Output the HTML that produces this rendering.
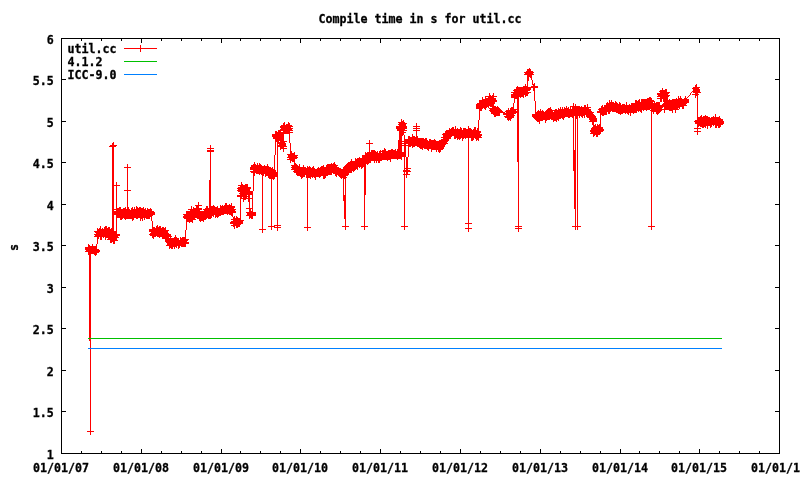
<!DOCTYPE html>
<html lang="en"><head><meta charset="utf-8"><title>Compile time in s for util.cc</title>
<style>html,body{margin:0;padding:0;background:#fff}body{width:800px;height:480px;overflow:hidden}svg{display:block}</style>
</head><body>
<svg width="800" height="480" viewBox="0 0 800 480">
<rect width="800" height="480" fill="#fff"/>
<path d="M61.5 38.5H779.5V453.5H61.5ZM62 453.5h4M779 453.5h-4M62 411.5h4M779 411.5h-4M62 370.5h4M779 370.5h-4M62 328.5h4M779 328.5h-4M62 287.5h4M779 287.5h-4M62 245.5h4M779 245.5h-4M62 204.5h4M779 204.5h-4M62 162.5h4M779 162.5h-4M62 121.5h4M779 121.5h-4M62 79.5h4M779 79.5h-4M62 38.5h4M779 38.5h-4M61.5 453v-4 M61.5 39v4M81.5 453v-2 M81.5 39v2M101.5 453v-2 M101.5 39v2M121.5 453v-2 M121.5 39v2M141.5 453v-4 M141.5 39v4M161.5 453v-2 M161.5 39v2M181.5 453v-2 M181.5 39v2M201.5 453v-2 M201.5 39v2M221.5 453v-4 M221.5 39v4M240.5 453v-2 M240.5 39v2M260.5 453v-2 M260.5 39v2M280.5 453v-2 M280.5 39v2M300.5 453v-4 M300.5 39v4M320.5 453v-2 M320.5 39v2M340.5 453v-2 M340.5 39v2M360.5 453v-2 M360.5 39v2M380.5 453v-4 M380.5 39v4M400.5 453v-2 M400.5 39v2M420.5 453v-2 M420.5 39v2M440.5 453v-2 M440.5 39v2M460.5 453v-4 M460.5 39v4M480.5 453v-2 M480.5 39v2M500.5 453v-2 M500.5 39v2M520.5 453v-2 M520.5 39v2M540.5 453v-4 M540.5 39v4M560.5 453v-2 M560.5 39v2M580.5 453v-2 M580.5 39v2M600.5 453v-2 M600.5 39v2M620.5 453v-4 M620.5 39v4M639.5 453v-2 M639.5 39v2M659.5 453v-2 M659.5 39v2M679.5 453v-2 M679.5 39v2M699.5 453v-4 M699.5 39v4M719.5 453v-2 M719.5 39v2M739.5 453v-2 M739.5 39v2M759.5 453v-2 M759.5 39v2M779.5 453v-4 M779.5 39v4" fill="none" stroke="#000" stroke-width="1" shape-rendering="crispEdges"/>
<path d="M85 247h1v3h-1zM85 251h1v1h-1zM86 247h2v5h-2zM87 431h3v1h-3zM88 244h1v11h-1zM89 245h1v96h-1zM90 246h1v189h-1zM91 246h1v8h-1zM91 431h3v1h-3zM92 244h1v10h-1zM93 246h1v8h-1zM94 231h1v1h-1zM94 234h1v1h-1zM94 236h1v1h-1zM94 246h1v9h-1zM95 231h1v2h-1zM95 234h1v3h-1zM95 246h1v10h-1zM96 231h1v6h-1zM96 244h1v11h-1zM97 228h1v16h-1zM97 249h2v4h-2zM98 229h1v10h-1zM99 228h1v9h-1zM99 250h1v2h-1zM100 226h1v14h-1zM101 229h1v11h-1zM102 228h1v9h-1zM103 229h1v9h-1zM104 227h1v10h-1zM105 226h1v14h-1zM106 226h1v12h-1zM107 228h1v10h-1zM107 239h1v1h-1zM108 227h2v13h-2zM109 146h1v1h-1zM110 145h2v2h-2zM110 229h1v14h-1zM111 228h1v15h-1zM112 143h1v99h-1zM113 142h1v102h-1zM114 145h2v2h-2zM114 185h2v1h-2zM114 209h2v1h-2zM114 211h2v4h-2zM114 231h1v13h-1zM115 231h1v10h-1zM116 145h1v1h-1zM116 182h1v59h-1zM117 185h3v1h-3zM117 208h2v10h-2zM117 234h1v4h-1zM117 240h1v1h-1zM118 234h2v2h-2zM118 237h1v1h-1zM119 207h1v11h-1zM120 207h1v13h-1zM121 209h1v11h-1zM122 209h1v10h-1zM123 208h1v10h-1zM124 167h3v1h-3zM124 190h3v1h-3zM124 208h1v11h-1zM125 207h1v13h-1zM126 209h1v10h-1zM127 164h1v55h-1zM128 167h3v1h-3zM128 190h3v1h-3zM128 207h1v12h-1zM129 209h1v10h-1zM130 210h1v9h-1zM131 208h1v11h-1zM132 207h1v14h-1zM133 209h1v11h-1zM134 207h1v11h-1zM135 209h1v9h-1zM136 206h1v13h-1zM137 207h1v12h-1zM138 208h1v10h-1zM139 207h1v11h-1zM140 207h1v14h-1zM141 208h1v11h-1zM142 208h1v13h-1zM143 207h1v11h-1zM144 209h1v11h-1zM145 208h1v10h-1zM146 210h1v9h-1zM147 208h1v11h-1zM148 209h2v10h-2zM149 229h2v3h-2zM149 234h1v1h-1zM150 208h1v9h-1zM150 233h1v3h-1zM151 209h1v12h-1zM151 229h1v7h-1zM152 211h1v5h-1zM152 221h1v17h-1zM153 211h1v4h-1zM153 227h1v12h-1zM154 212h1v3h-1zM154 227h1v10h-1zM155 228h1v9h-1zM156 226h1v10h-1zM157 225h1v12h-1zM158 227h1v10h-1zM159 226h1v12h-1zM160 226h1v11h-1zM161 228h1v9h-1zM162 227h2v12h-2zM164 228h1v11h-1zM165 227h1v15h-1zM166 230h1v13h-1zM166 245h1v1h-1zM167 230h1v16h-1zM168 230h1v1h-1zM168 233h1v13h-1zM169 234h1v3h-1zM169 238h1v11h-1zM170 234h1v14h-1zM171 236h1v1h-1zM171 238h2v11h-2zM173 238h1v9h-1zM174 237h1v12h-1zM175 235h1v12h-1zM176 237h1v11h-1zM177 238h1v8h-1zM178 238h1v11h-1zM179 240h1v8h-1zM180 237h1v9h-1zM181 238h1v9h-1zM182 237h3v10h-3zM183 214h1v1h-1zM183 216h1v2h-1zM184 214h2v5h-2zM185 230h1v17h-1zM186 211h1v19h-1zM186 239h1v5h-1zM187 211h2v11h-2zM187 239h1v2h-1zM187 242h2v2h-2zM188 209h2v1h-2zM188 239h1v1h-1zM189 211h1v12h-1zM190 209h1v13h-1zM191 206h1v16h-1zM192 209h1v14h-1zM193 207h1v13h-1zM194 208h1v12h-1zM195 205h1v1h-1zM195 208h1v10h-1zM195 219h1v1h-1zM196 205h1v13h-1zM197 205h1v14h-1zM198 202h1v17h-1zM199 205h3v1h-3zM199 208h1v13h-1zM200 208h2v2h-2zM200 211h1v11h-1zM201 211h2v10h-2zM203 209h1v1h-1zM203 211h1v11h-1zM204 209h1v11h-1zM205 208h1v12h-1zM206 206h1v13h-1zM207 148h3v1h-3zM207 150h3v2h-3zM207 206h1v12h-1zM208 208h1v11h-1zM209 180h1v39h-1zM210 145h1v74h-1zM211 148h3v1h-3zM211 150h3v2h-3zM211 206h1v12h-1zM212 206h1v10h-1zM213 205h1v12h-1zM214 206h1v9h-1zM215 207h1v11h-1zM216 207h1v10h-1zM217 206h1v12h-1zM218 208h1v9h-1zM219 208h1v8h-1zM220 205h1v11h-1zM221 206h1v9h-1zM222 205h1v10h-1zM223 206h1v9h-1zM224 205h1v9h-1zM225 203h2v11h-2zM227 205h1v10h-1zM228 205h1v9h-1zM229 204h1v11h-1zM230 205h1v10h-1zM230 222h1v2h-1zM231 203h1v13h-1zM231 219h2v1h-2zM231 221h2v3h-2zM231 225h2v1h-2zM232 206h1v11h-1zM233 206h1v7h-1zM233 217h1v10h-1zM234 206h1v2h-1zM234 209h1v4h-1zM234 216h1v13h-1zM235 209h1v1h-1zM235 211h1v2h-1zM235 218h1v8h-1zM236 216h1v12h-1zM237 188h1v1h-1zM237 190h1v1h-1zM237 195h3v2h-3zM237 217h1v11h-1zM238 185h2v1h-2zM238 187h2v5h-2zM238 218h2v9h-2zM239 193h1v1h-1zM240 185h1v40h-1zM241 182h1v17h-1zM241 220h2v4h-2zM242 184h1v13h-1zM242 198h1v1h-1zM243 185h1v17h-1zM243 220h1v1h-1zM244 185h1v15h-1zM245 184h1v16h-1zM246 184h1v15h-1zM246 208h3v1h-3zM246 212h1v1h-1zM246 215h1v1h-1zM247 184h1v11h-1zM247 196h1v1h-1zM247 198h1v1h-1zM247 212h2v4h-2zM248 187h1v15h-1zM249 187h1v32h-1zM250 167h1v3h-1zM250 171h1v1h-1zM250 187h1v2h-1zM250 191h2v4h-2zM250 198h2v1h-2zM250 208h1v10h-1zM251 165h2v5h-2zM251 171h2v2h-2zM251 208h1v1h-1zM251 211h1v8h-1zM252 191h1v28h-1zM253 164h1v27h-1zM253 212h3v4h-3zM254 162h1v14h-1zM255 164h1v9h-1zM256 165h1v9h-1zM257 163h1v11h-1zM258 165h1v9h-1zM259 163h1v12h-1zM259 229h3v1h-3zM260 164h1v10h-1zM261 165h1v10h-1zM262 166h1v67h-1zM263 166h1v10h-1zM263 229h3v1h-3zM264 165h1v9h-1zM265 166h1v11h-1zM266 166h1v10h-1zM267 164h1v12h-1zM268 166h1v12h-1zM268 226h3v1h-3zM269 167h2v12h-2zM271 168h1v62h-1zM272 134h1v3h-1zM272 167h1v12h-1zM272 226h2v1h-2zM273 134h2v5h-2zM273 169h1v11h-1zM274 155h1v24h-1zM274 225h1v3h-1zM275 131h1v24h-1zM275 170h1v7h-1zM275 225h2v1h-2zM275 227h2v1h-2zM276 131h1v11h-1zM276 172h1v5h-1zM277 132h1v99h-1zM278 130h1v14h-1zM278 145h1v2h-1zM278 225h3v1h-3zM278 227h3v1h-3zM279 130h1v11h-1zM279 142h1v5h-1zM280 126h1v2h-1zM280 129h1v21h-1zM281 125h2v6h-2zM281 132h2v17h-2zM283 123h1v29h-1zM284 122h1v12h-1zM284 141h1v6h-1zM284 148h3v1h-3zM285 125h1v9h-1zM285 141h2v1h-2zM285 143h1v4h-1zM286 124h2v10h-2zM286 146h1v1h-1zM287 154h1v1h-1zM287 157h1v1h-1zM287 159h2v1h-2zM288 122h1v12h-1zM288 154h1v4h-1zM289 123h1v20h-1zM289 154h1v6h-1zM290 125h1v6h-1zM290 132h3v1h-3zM290 143h1v20h-1zM291 125h1v2h-1zM291 128h1v3h-1zM291 151h1v10h-1zM291 165h1v1h-1zM291 167h1v1h-1zM291 169h1v1h-1zM292 126h1v1h-1zM292 128h1v1h-1zM292 130h1v1h-1zM292 153h2v9h-2zM292 165h2v5h-2zM293 171h1v1h-1zM294 152h1v21h-1zM295 155h2v4h-2zM295 163h1v10h-1zM296 164h1v11h-1zM297 155h1v1h-1zM297 157h1v1h-1zM297 165h1v11h-1zM298 166h1v10h-1zM299 164h1v12h-1zM300 167h1v10h-1zM301 167h1v12h-1zM302 167h1v11h-1zM303 165h1v12h-1zM304 167h1v10h-1zM304 227h3v1h-3zM305 167h1v8h-1zM306 168h1v10h-1zM307 166h1v65h-1zM308 167h1v11h-1zM308 227h3v1h-3zM309 166h1v12h-1zM310 167h1v12h-1zM311 168h1v9h-1zM312 167h1v11h-1zM313 166h1v11h-1zM314 168h1v10h-1zM315 169h1v11h-1zM316 169h1v8h-1zM317 168h1v9h-1zM318 167h1v10h-1zM319 168h1v10h-1zM320 167h1v10h-1zM321 166h2v10h-2zM323 165h1v14h-1zM324 167h1v12h-1zM325 167h1v11h-1zM326 165h1v11h-1zM327 164h1v12h-1zM328 164h3v11h-3zM331 163h1v12h-1zM332 164h1v9h-1zM333 163h1v11h-1zM334 162h1v12h-1zM335 164h1v12h-1zM336 165h1v12h-1zM337 165h1v1h-1zM337 167h1v8h-1zM338 167h1v9h-1zM339 168h1v9h-1zM340 168h1v10h-1zM341 169h1v10h-1zM342 169h1v9h-1zM342 226h3v1h-3zM343 167h1v34h-1zM344 166h1v13h-1zM344 195h1v24h-1zM345 165h1v65h-1zM346 164h1v12h-1zM346 177h1v1h-1zM346 226h3v1h-3zM347 163h1v13h-1zM348 162h1v13h-1zM349 162h1v11h-1zM350 161h1v12h-1zM351 159h1v14h-1zM352 161h1v10h-1zM353 161h1v11h-1zM354 161h1v10h-1zM355 158h1v12h-1zM356 159h1v10h-1zM357 158h1v12h-1zM358 158h1v9h-1zM359 157h1v11h-1zM360 158h1v9h-1zM361 158h1v11h-1zM361 226h3v1h-3zM362 155h1v13h-1zM363 155h1v12h-1zM364 155h1v75h-1zM365 152h1v43h-1zM365 226h3v1h-3zM366 143h3v1h-3zM366 153h1v11h-1zM367 152h1v13h-1zM368 152h1v12h-1zM369 140h1v23h-1zM370 143h3v1h-3zM370 152h1v11h-1zM371 150h3v11h-3zM374 150h1v13h-1zM375 151h1v10h-1zM376 152h1v11h-1zM377 151h1v10h-1zM378 153h1v10h-1zM379 151h1v12h-1zM380 150h1v11h-1zM381 151h1v1h-1zM381 153h1v8h-1zM382 150h2v10h-2zM384 148h1v12h-1zM385 149h1v11h-1zM386 151h1v9h-1zM387 151h1v10h-1zM388 150h2v10h-2zM390 150h1v12h-1zM391 149h2v10h-2zM393 150h2v9h-2zM395 149h1v10h-1zM396 126h1v3h-1zM396 151h1v8h-1zM397 126h2v5h-2zM397 149h1v11h-1zM398 122h1v1h-1zM398 124h1v1h-1zM398 140h1v19h-1zM399 122h2v37h-2zM401 119h1v41h-1zM401 226h3v1h-3zM402 121h1v15h-1zM402 141h2v1h-2zM402 143h2v1h-2zM402 145h2v1h-2zM402 152h2v5h-2zM403 120h1v15h-1zM403 170h1v2h-1zM403 174h1v1h-1zM404 122h1v9h-1zM404 132h2v1h-2zM404 135h1v95h-1zM405 123h1v6h-1zM405 130h2v1h-2zM405 139h1v18h-1zM405 168h1v1h-1zM405 170h1v2h-1zM405 174h1v1h-1zM405 226h3v1h-3zM406 123h1v1h-1zM406 126h1v3h-1zM406 139h2v5h-2zM406 145h2v1h-2zM406 157h1v21h-1zM407 157h1v18h-1zM408 136h1v21h-1zM408 168h3v1h-3zM408 170h2v2h-2zM408 174h2v1h-2zM409 136h1v11h-1zM410 137h1v10h-1zM410 171h1v1h-1zM411 137h1v9h-1zM412 134h1v14h-1zM413 126h3v1h-3zM413 128h3v1h-3zM413 130h3v1h-3zM413 136h2v11h-2zM415 137h1v9h-1zM416 123h1v23h-1zM417 126h3v1h-3zM417 128h3v1h-3zM417 130h3v1h-3zM417 136h1v11h-1zM418 138h1v9h-1zM419 138h1v10h-1zM420 138h2v11h-2zM422 138h1v12h-1zM423 138h1v10h-1zM424 139h1v10h-1zM425 138h2v11h-2zM427 140h1v10h-1zM428 141h1v10h-1zM429 139h2v10h-2zM431 140h1v12h-1zM432 140h2v10h-2zM434 139h1v11h-1zM435 140h1v10h-1zM436 141h1v11h-1zM437 141h1v9h-1zM438 141h1v11h-1zM439 140h1v13h-1zM440 140h1v12h-1zM441 137h2v1h-2zM441 139h2v11h-2zM442 134h1v1h-1zM443 133h1v16h-1zM444 133h1v14h-1zM445 131h1v14h-1zM446 130h1v14h-1zM447 130h1v12h-1zM447 143h1v1h-1zM448 130h1v11h-1zM449 128h1v11h-1zM450 129h1v10h-1zM451 128h1v9h-1zM452 127h2v9h-2zM454 129h1v10h-1zM455 126h1v13h-1zM456 129h1v9h-1zM457 128h1v12h-1zM458 129h1v10h-1zM459 129h1v11h-1zM460 127h1v12h-1zM461 128h1v10h-1zM462 130h1v11h-1zM463 128h1v11h-1zM464 128h1v10h-1zM465 128h1v11h-1zM465 223h3v1h-3zM465 228h3v1h-3zM466 129h2v9h-2zM468 126h1v106h-1zM469 128h2v10h-2zM469 223h3v1h-3zM469 228h3v1h-3zM471 129h1v12h-1zM472 130h1v11h-1zM473 129h1v11h-1zM474 127h1v11h-1zM475 127h1v12h-1zM476 104h1v5h-1zM476 130h1v11h-1zM477 103h2v6h-2zM477 128h1v12h-1zM478 120h1v21h-1zM479 100h1v20h-1zM479 131h1v7h-1zM480 100h2v11h-2zM480 131h1v2h-1zM480 134h1v4h-1zM481 134h1v2h-1zM481 137h1v1h-1zM482 97h1v12h-1zM483 99h1v9h-1zM484 99h1v10h-1zM485 96h1v14h-1zM486 96h2v1h-2zM486 98h1v10h-1zM487 98h1v9h-1zM488 96h1v12h-1zM489 93h1v13h-1zM489 108h1v1h-1zM489 110h1v1h-1zM490 95h1v12h-1zM490 108h1v4h-1zM491 96h1v11h-1zM491 108h1v6h-1zM492 95h1v19h-1zM493 93h1v22h-1zM494 96h3v1h-3zM494 98h1v6h-1zM494 106h2v11h-2zM495 98h1v4h-1zM496 100h1v2h-1zM496 107h1v9h-1zM497 106h1v10h-1zM498 107h1v9h-1zM499 108h1v8h-1zM500 109h1v4h-1zM501 110h1v3h-1zM502 111h1v2h-1zM503 112h2v3h-2zM504 116h1v1h-1zM505 111h1v1h-1zM505 113h1v2h-1zM505 116h1v2h-1zM506 110h1v8h-1zM507 110h1v10h-1zM508 108h1v13h-1zM509 110h1v10h-1zM510 108h1v13h-1zM511 92h2v1h-2zM511 94h2v4h-2zM511 107h1v12h-1zM512 107h1v11h-1zM513 90h1v1h-1zM513 92h1v6h-1zM513 103h1v15h-1zM514 89h1v14h-1zM514 109h2v5h-2zM514 115h1v1h-1zM515 89h1v10h-1zM515 226h3v1h-3zM515 228h3v1h-3zM516 87h1v12h-1zM516 109h1v1h-1zM516 111h1v2h-1zM517 86h1v76h-1zM518 87h1v145h-1zM519 87h1v10h-1zM519 226h3v1h-3zM519 228h3v1h-3zM520 87h1v11h-1zM521 87h2v10h-2zM523 86h1v12h-1zM524 72h1v1h-1zM524 74h1v1h-1zM524 86h1v9h-1zM525 72h1v3h-1zM525 84h1v13h-1zM526 71h1v4h-1zM526 86h1v10h-1zM527 69h1v27h-1zM528 69h1v12h-1zM528 87h2v4h-2zM528 92h1v2h-1zM529 68h1v9h-1zM529 92h2v1h-2zM530 69h1v9h-1zM530 87h1v3h-1zM531 71h1v9h-1zM531 86h2v2h-2zM532 71h1v4h-1zM532 80h1v5h-1zM532 114h1v3h-1zM533 72h1v1h-1zM533 74h1v1h-1zM533 84h1v7h-1zM533 114h1v4h-1zM534 83h1v18h-1zM534 114h1v5h-1zM535 86h3v2h-3zM535 101h1v19h-1zM536 112h1v9h-1zM537 111h1v11h-1zM538 110h1v12h-1zM539 111h1v13h-1zM540 109h1v12h-1zM541 111h1v10h-1zM542 110h1v11h-1zM543 111h1v9h-1zM544 112h1v8h-1zM545 111h1v12h-1zM546 110h1v11h-1zM547 109h1v11h-1zM548 108h2v12h-2zM550 107h1v12h-1zM551 109h1v11h-1zM552 110h1v10h-1zM553 110h1v1h-1zM553 112h1v10h-1zM554 110h1v11h-1zM555 109h1v12h-1zM556 109h1v13h-1zM557 110h1v10h-1zM558 108h1v13h-1zM559 109h1v10h-1zM560 107h1v12h-1zM561 109h1v9h-1zM562 107h1v12h-1zM563 109h1v11h-1zM564 107h1v11h-1zM565 108h1v9h-1zM566 106h1v11h-1zM567 108h1v9h-1zM568 107h1v11h-1zM569 109h1v9h-1zM570 106h1v11h-1zM571 106h1v1h-1zM571 109h1v8h-1zM572 106h1v12h-1zM572 226h3v1h-3zM573 103h1v68h-1zM574 106h1v10h-1zM574 150h1v59h-1zM575 104h1v126h-1zM576 106h1v13h-1zM576 226h1v1h-1zM577 106h1v124h-1zM578 106h1v10h-1zM578 226h3v1h-3zM579 106h1v12h-1zM580 107h1v9h-1zM581 106h1v11h-1zM582 107h1v11h-1zM583 107h1v9h-1zM584 105h1v13h-1zM585 105h1v10h-1zM586 107h1v10h-1zM587 104h1v14h-1zM588 107h1v11h-1zM589 107h2v1h-2zM589 109h1v11h-1zM589 121h1v1h-1zM590 109h1v13h-1zM590 130h1v2h-1zM590 133h1v1h-1zM591 111h1v11h-1zM591 128h1v6h-1zM592 112h1v13h-1zM592 127h1v7h-1zM593 112h1v1h-1zM593 114h1v23h-1zM594 115h1v7h-1zM594 125h1v11h-1zM595 116h1v6h-1zM595 124h1v11h-1zM596 118h1v4h-1zM596 126h1v11h-1zM597 111h2v2h-2zM597 124h1v13h-1zM598 109h1v1h-1zM598 125h1v10h-1zM599 108h1v5h-1zM599 124h1v11h-1zM600 108h1v26h-1zM601 106h1v9h-1zM601 127h2v5h-2zM602 105h1v11h-1zM603 107h1v9h-1zM603 129h1v2h-1zM604 105h2v10h-2zM606 103h1v12h-1zM607 102h1v10h-1zM608 103h1v11h-1zM609 100h1v14h-1zM610 102h1v10h-1zM611 100h1v11h-1zM612 102h2v10h-2zM614 103h1v9h-1zM615 101h1v11h-1zM616 102h1v11h-1zM617 103h1v10h-1zM618 104h1v10h-1zM619 102h1v12h-1zM620 103h1v12h-1zM621 105h1v9h-1zM622 104h1v10h-1zM623 104h2v9h-2zM625 105h1v9h-1zM626 102h1v11h-1zM627 105h1v9h-1zM628 105h1v10h-1zM629 104h1v9h-1zM630 105h1v11h-1zM631 103h2v10h-2zM633 103h1v11h-1zM634 103h1v10h-1zM635 100h2v13h-2zM637 101h1v10h-1zM638 100h1v12h-1zM639 99h1v12h-1zM640 102h1v10h-1zM641 99h1v14h-1zM642 99h1v11h-1zM643 99h1v12h-1zM644 99h2v11h-2zM646 99h1v12h-1zM647 98h2v12h-2zM648 226h3v1h-3zM649 97h1v13h-1zM650 97h1v12h-1zM650 110h1v1h-1zM651 98h1v132h-1zM652 100h1v12h-1zM652 226h3v1h-3zM653 100h1v2h-1zM653 103h1v11h-1zM654 101h1v11h-1zM655 103h1v9h-1zM656 102h1v12h-1zM657 93h1v2h-1zM657 96h1v1h-1zM657 98h3v1h-3zM657 102h1v13h-1zM658 93h2v4h-2zM658 102h1v12h-1zM659 91h1v1h-1zM659 102h1v11h-1zM660 90h2v12h-2zM660 105h1v7h-1zM661 105h1v6h-1zM662 88h1v11h-1zM662 104h1v4h-1zM662 109h2v1h-2zM663 90h1v12h-1zM663 103h1v4h-1zM664 90h1v23h-1zM665 89h2v21h-2zM667 92h1v18h-1zM668 92h1v2h-1zM668 95h1v2h-1zM668 100h1v10h-1zM669 92h1v1h-1zM669 95h1v1h-1zM669 99h1v12h-1zM670 100h2v11h-2zM672 99h1v14h-1zM673 99h2v11h-2zM675 99h1v14h-1zM676 98h1v12h-1zM677 99h1v11h-1zM678 96h1v12h-1zM678 109h1v1h-1zM679 98h1v11h-1zM680 96h1v11h-1zM681 98h1v9h-1zM682 99h2v10h-2zM684 98h1v8h-1zM685 96h1v10h-1zM686 98h1v6h-1zM686 105h1v1h-1zM687 97h1v1h-1zM687 99h2v4h-2zM688 96h1v1h-1zM689 95h1v1h-1zM690 93h1v2h-1zM691 92h1v1h-1zM692 88h1v1h-1zM692 91h1v1h-1zM692 94h3v1h-3zM693 87h2v6h-2zM694 121h1v1h-1zM694 128h3v1h-3zM694 131h3v1h-3zM695 85h1v13h-1zM695 120h2v4h-2zM696 84h1v12h-1zM697 87h1v48h-1zM698 87h1v6h-1zM698 94h1v1h-1zM698 117h1v10h-1zM698 128h3v1h-3zM698 131h3v1h-3zM699 87h1v1h-1zM699 89h1v4h-1zM699 117h1v9h-1zM700 92h1v1h-1zM700 116h1v11h-1zM701 115h1v12h-1zM702 117h1v11h-1zM703 116h1v12h-1zM704 116h1v11h-1zM705 115h1v13h-1zM706 116h1v10h-1zM707 116h1v13h-1zM708 117h2v9h-2zM710 118h1v10h-1zM711 117h1v10h-1zM712 117h1v8h-1zM713 116h1v10h-1zM714 117h1v8h-1zM715 114h1v14h-1zM716 117h1v11h-1zM717 117h1v9h-1zM718 117h1v11h-1zM719 116h1v12h-1zM720 118h1v9h-1zM721 119h2v6h-2zM723 121h1v3h-1z" fill="#f00" shape-rendering="crispEdges"/>
<path d="M88 338.5H722" stroke="#00c000" stroke-width="1" shape-rendering="crispEdges"/>
<path d="M88 348.5H722" stroke="#0080ff" stroke-width="1" shape-rendering="crispEdges"/>
<path d="M124 48.5H157M140.5 45V52" stroke="#f00" stroke-width="1" fill="none" shape-rendering="crispEdges"/>
<path d="M124 61.5H157" stroke="#00c000" stroke-width="1" shape-rendering="crispEdges"/>
<path d="M124 74.5H157" stroke="#0080ff" stroke-width="1" shape-rendering="crispEdges"/>
<g font-family="'DejaVu Sans Mono','Liberation Mono',monospace" font-weight="bold" font-size="12px" fill="#000" stroke="#000" stroke-width="0.3">
<text x="419.9" y="23" text-anchor="middle" textLength="203" lengthAdjust="spacingAndGlyphs">Compile time in s for util.cc</text>
<text x="67.4" y="53" text-anchor="start" textLength="49" lengthAdjust="spacingAndGlyphs">util.cc</text>
<text x="67.4" y="66" text-anchor="start" textLength="35" lengthAdjust="spacingAndGlyphs">4.1.2</text>
<text x="67.4" y="79" text-anchor="start" textLength="49" lengthAdjust="spacingAndGlyphs">ICC-9.0</text>
<text x="53.8" y="458.5" text-anchor="end" textLength="7" lengthAdjust="spacingAndGlyphs">1</text>
<text x="53.8" y="416.5" text-anchor="end" textLength="21" lengthAdjust="spacingAndGlyphs">1.5</text>
<text x="53.8" y="375.5" text-anchor="end" textLength="7" lengthAdjust="spacingAndGlyphs">2</text>
<text x="53.8" y="333.5" text-anchor="end" textLength="21" lengthAdjust="spacingAndGlyphs">2.5</text>
<text x="53.8" y="292.5" text-anchor="end" textLength="7" lengthAdjust="spacingAndGlyphs">3</text>
<text x="53.8" y="250.5" text-anchor="end" textLength="21" lengthAdjust="spacingAndGlyphs">3.5</text>
<text x="53.8" y="209.5" text-anchor="end" textLength="7" lengthAdjust="spacingAndGlyphs">4</text>
<text x="53.8" y="167.5" text-anchor="end" textLength="21" lengthAdjust="spacingAndGlyphs">4.5</text>
<text x="53.8" y="126.5" text-anchor="end" textLength="7" lengthAdjust="spacingAndGlyphs">5</text>
<text x="53.8" y="84.5" text-anchor="end" textLength="21" lengthAdjust="spacingAndGlyphs">5.5</text>
<text x="53.8" y="43.5" text-anchor="end" textLength="7" lengthAdjust="spacingAndGlyphs">6</text>
<text x="60.9" y="472" text-anchor="middle" textLength="56" lengthAdjust="spacingAndGlyphs">01/01/07</text>
<text x="140.9" y="472" text-anchor="middle" textLength="56" lengthAdjust="spacingAndGlyphs">01/01/08</text>
<text x="220.9" y="472" text-anchor="middle" textLength="56" lengthAdjust="spacingAndGlyphs">01/01/09</text>
<text x="299.9" y="472" text-anchor="middle" textLength="56" lengthAdjust="spacingAndGlyphs">01/01/10</text>
<text x="379.9" y="472" text-anchor="middle" textLength="56" lengthAdjust="spacingAndGlyphs">01/01/11</text>
<text x="459.9" y="472" text-anchor="middle" textLength="56" lengthAdjust="spacingAndGlyphs">01/01/12</text>
<text x="539.9" y="472" text-anchor="middle" textLength="56" lengthAdjust="spacingAndGlyphs">01/01/13</text>
<text x="619.9" y="472" text-anchor="middle" textLength="56" lengthAdjust="spacingAndGlyphs">01/01/14</text>
<text x="698.9" y="472" text-anchor="middle" textLength="56" lengthAdjust="spacingAndGlyphs">01/01/15</text>
<text x="778.9" y="472" text-anchor="middle" textLength="56" lengthAdjust="spacingAndGlyphs">01/01/16</text>
<text x="0" y="0" transform="translate(17.5,247.5) rotate(-90)" text-anchor="middle" textLength="7" lengthAdjust="spacingAndGlyphs">s</text>
</g>
</svg>
</body></html>
